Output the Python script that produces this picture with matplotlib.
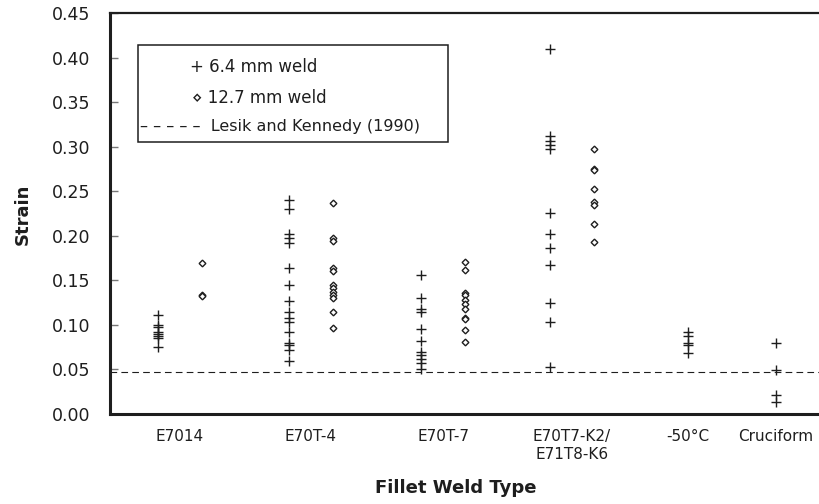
import matplotlib
matplotlib.use("Agg")
import matplotlib.pyplot as plt
from matplotlib.patches import Rectangle

# weld types and measured strains
categories = ["E7014", "E70T-4", "E70T-7", "E70T7-K2/\nE71T8-K6", "-50°C", "Cruciform"]

e7014_64 = [0.111, 0.100, 0.098, 0.092, 0.090, 0.088, 0.085, 0.075]
e7014_127 = [0.170, 0.133, 0.132]
e70t4_64 = [0.240, 0.230, 0.202, 0.197, 0.192, 0.164, 0.145, 0.127, 0.115,
            0.108, 0.103, 0.092, 0.080, 0.077, 0.072, 0.060]
e70t4_127 = [0.237, 0.198, 0.194, 0.164, 0.160, 0.145, 0.141, 0.137, 0.134,
             0.130, 0.115, 0.097]
e70t7_64 = [0.156, 0.130, 0.118, 0.115, 0.095, 0.082, 0.070, 0.066, 0.062,
            0.057, 0.050]
e70t7_127 = [0.171, 0.162, 0.136, 0.133, 0.128, 0.123, 0.118, 0.108, 0.107,
             0.094, 0.081]
k2_64 = [0.410, 0.312, 0.306, 0.302, 0.297, 0.225, 0.202, 0.186, 0.167,
         0.125, 0.103, 0.053]
k2_127 = [0.297, 0.275, 0.274, 0.253, 0.238, 0.234, 0.213, 0.193]
minus50_64 = [0.092, 0.088, 0.080, 0.077, 0.068]
cruciform_64 = [0.080, 0.049, 0.021, 0.013]

lesik_kennedy = 0.047

series_64 = [e7014_64, e70t4_64, e70t7_64, k2_64, minus50_64, cruciform_64]
series_127 = [e7014_127, e70t4_127, e70t7_127, k2_127, None, None]

# layout
centers = [1.0, 2.0, 3.01, 3.99, 4.88, 5.55]
off = 0.168
ink = "#1e1e1e"

plt.rcParams["font.family"] = ["DejaVu Sans"]

fig = plt.figure(figsize=(8.19, 5.04), dpi=100)
ax = fig.add_axes([0.1343, 0.1786, 0.8657, 0.7956])

for c, s64, s127 in zip(centers, series_64, series_127):
    if s127 is None:
        ax.plot([c] * len(s64), s64, ls="none", marker="+", ms=6.5, mew=1.0, color=ink)
    else:
        ax.plot([c - off] * len(s64), s64, ls="none", marker="+", ms=6.5, mew=1.0, color=ink)
        ax.plot([c + off] * len(s127), s127, ls="none", marker="D", ms=3.4, mew=1.0,
                mfc="white", mec=ink)

ax.axhline(lesik_kennedy, color=ink, lw=0.8, ls=(0, (6, 3.8)))

ax.set_xlim(0.466, 5.878)
ax.set_ylim(0, 0.45)
ax.set_yticks([i * 0.05 for i in range(10)])
ax.set_yticklabels([f"{i * 0.05:.2f}" for i in range(10)])
ax.set_xticks(centers)
ax.set_xticklabels(categories)

ax.tick_params(axis="y", direction="in", length=6, width=1, color="#777777",
               labelsize=12.5, labelcolor=ink, pad=14)
ax.tick_params(axis="x", length=0, labelsize=11, labelcolor=ink, pad=11)

ax.spines["right"].set_visible(False)
ax.spines["left"].set_linewidth(2.2)
ax.spines["bottom"].set_linewidth(2.2)
ax.spines["top"].set_linewidth(1.6)
for sp in ax.spines.values():
    sp.set_color(ink)

ax.set_ylabel("Strain", fontsize=13, fontweight="bold", color=ink)
ax.yaxis.set_label_coords(-0.110, 0.499)
ax.set_xlabel("Fillet Weld Type", fontsize=13, fontweight="bold", color=ink)
ax.xaxis.set_label_coords(0.488, -0.184)
ax.xaxis.label.set_va("center")

# legend box drawn as text, like the original
ax.add_patch(Rectangle((0.0395, 0.679), 0.4372, 0.241, transform=ax.transAxes,
                       fill=False, edgecolor=ink, lw=1.1, zorder=5))
ax.text(0.1128, 0.866, "+ 6.4 mm weld", transform=ax.transAxes, fontsize=12,
        va="center", ha="left", color=ink)
ax.text(0.1157, 0.788, "⋄ 12.7 mm weld", transform=ax.transAxes, fontsize=12,
        va="center", ha="left", color=ink)
ax.text(0.0423, 0.7165, "– – – – –  Lesik and Kennedy (1990)", transform=ax.transAxes,
        fontsize=11.5, va="center", ha="left", color=ink)

fig.savefig("out.png", dpi=100)
